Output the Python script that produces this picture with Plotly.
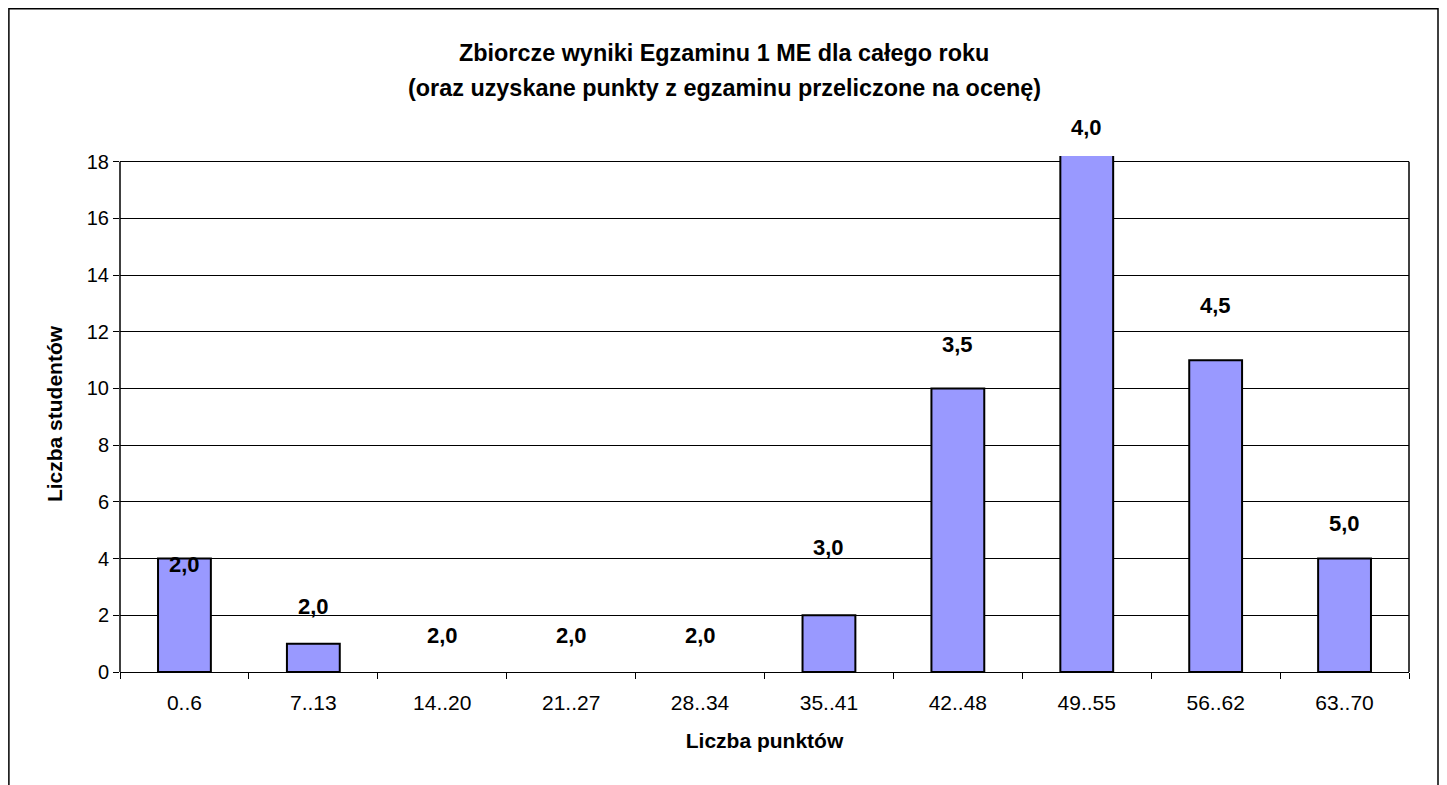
import plotly.graph_objects as go

categories = ["0..6", "7..13", "14..20", "21..27", "28..34", "35..41", "42..48", "49..55", "56..62", "63..70"]
students = [4, 1, 0, 0, 0, 2, 10, 19, 11, 4]
grades = ["2,0", "2,0", "2,0", "2,0", "2,0", "3,0", "3,5", "4,0", "4,5", "5,0"]
grade_label_y = [3.8, 2.3, 1.27, 1.27, 1.27, 4.38, 11.55, 19.2, 12.93, 5.24]
y_ticks = [0, 2, 4, 6, 8, 10, 12, 14, 16, 18]
Y_MAX = 18.2

FONT = "Liberation Sans, Arial, sans-serif"

fig = go.Figure()
fig.add_trace(go.Bar(
    x=categories, y=students,
    marker=dict(color="#9999FF",
                line=dict(color="black", width=[2 if v > 0 else 0 for v in students])),
    width=0.41, showlegend=False, hoverinfo="x+y",
))

for cat, g, gy in zip(categories, grades, grade_label_y):
    fig.add_annotation(x=cat, y=gy / Y_MAX, xref="x", yref="y domain", text=f"<b>{g}</b>",
                       showarrow=False, yanchor="middle",
                       font=dict(family=FONT, size=22, color="black"))

fig.update_layout(
    width=1439, height=777,
    margin=dict(l=112, r=38, t=148, b=113),
    paper_bgcolor="white", plot_bgcolor="white",
    font=dict(family=FONT, size=20, color="black"),
    xaxis=dict(
        type="category", tickson="boundaries", ticks="outside", ticklen=6,
        tickcolor="black", showline=True, linecolor="black", linewidth=1,
        showgrid=False, tickfont=dict(size=21), ticklabelstandoff=12,
        title=dict(text="<b>Liczba punktów</b>", font=dict(size=21), standoff=20),
    ),
    yaxis=dict(
        range=[0, Y_MAX], tickvals=y_ticks, ticks="outside", ticklen=6,
        tickcolor="black", showgrid=True, gridcolor="black", gridwidth=1,
        showline=False, zeroline=False, tickfont=dict(size=20),
        title=dict(text="<b>Liczba studentów</b>", font=dict(size=21), standoff=18),
    ),
)

# plot area border (left and right), up to the 18 line
fig.add_shape(type="line", xref="paper", yref="y", x0=0, x1=0, y0=0, y1=18,
              line=dict(color="black", width=1.5))
fig.add_shape(type="line", xref="paper", yref="y", x0=1, x1=1, y0=0, y1=18,
              line=dict(color="black", width=1.5))
# outer chart border
fig.add_shape(type="rect", xref="paper", yref="paper",
              x0=-0.0862, x1=1.0225, y0=-0.3, y1=1.2855,
              line=dict(color="black", width=1.5), layer="below")

fig.add_annotation(text="<b>Zbiorcze wyniki Egzaminu 1 ME dla całego roku</b>",
                   xref="paper", yref="paper", x=0.4686, y=1.1996, showarrow=False,
                   font=dict(size=23.4), yanchor="middle")
fig.add_annotation(text="<b>(oraz uzyskane punkty z egzaminu przeliczone na ocenę)</b>",
                   xref="paper", yref="paper", x=0.4686, y=1.1318, showarrow=False,
                   font=dict(size=23.4), yanchor="middle")

fig.write_html("out.html")
